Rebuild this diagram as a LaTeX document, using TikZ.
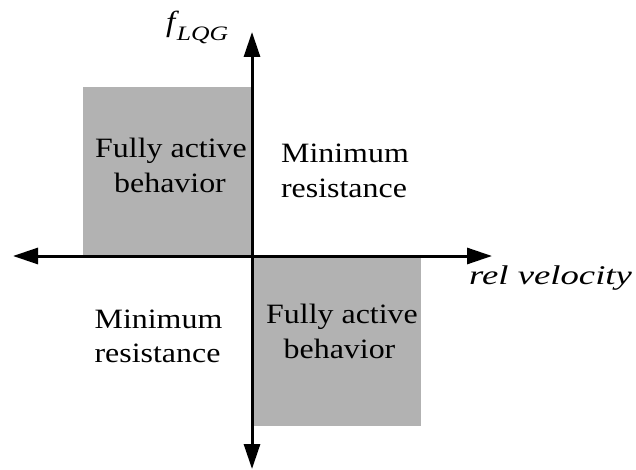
\documentclass[tikz,border=0pt]{standalone}
\usepackage{fontspec}
\setmainfont{Liberation Serif}
\newfontfamily\lblfont{Liberation Serif}[FakeStretch=1.14]
\newfontfamily\axfont{Liberation Serif}[FakeStretch=1.36]
\newfontfamily\subfont{Liberation Serif}[FakeStretch=1.25]
\usetikzlibrary{arrows.meta}

\begin{document}
\begin{tikzpicture}[x=1pt,y=-1pt,
  axis/.style={line width=3pt,-{Triangle[length=25pt,width=16pt]}},
  quad/.style={fill=black!30,draw=none},
  lbl/.style={inner sep=0pt,anchor=base,font=\lblfont\fontsize{28}{32}\selectfont},
  axlbl/.style={inner sep=0pt,anchor=base west,font=\axfont\itshape\fontsize{27}{30}\selectfont},
]
\useasboundingbox (0,0) rectangle (636,470);

% shaded quadrants
\fill[quad] (83,87) rectangle (252,256);
\fill[quad] (252,256) rectangle (421,426);

% axes
\coordinate (o)  at (252,256);
\coordinate (xl) at (13,256);
\coordinate (xr) at (492,256);
\coordinate (yt) at (252,32);
\coordinate (yb) at (252,469);
\draw[axis] (o) -- (xr);
\draw[axis] (o) -- (xl);
\draw[axis] (o) -- (yt);
\draw[axis] (o) -- (yb);

% axis labels
\node[axlbl] (xlab) at (469,284) {rel velocity};
\node[inner sep=0pt,anchor=base west] (ylab) at (166,32)
  {{\lblfont\itshape\fontsize{29}{30}\selectfont f}\kern1.5pt\raisebox{-9pt}{\subfont\itshape\fontsize{20.5}{20}\selectfont LQG}};

% quadrant labels
\node[lbl] (ul1) at (171,158) {Fully active};
\node[lbl] (ul2) at (170,193) {behavior};
\node[lbl] (ur1) at (345,163) {Minimum};
\node[lbl] (ur2) at (344,197) {resistance};
\node[lbl] (ll1) at (158.5,328) {Minimum};
\node[lbl] (ll2) at (157.5,362) {resistance};
\node[lbl] (lr1) at (342,323) {Fully active};
\node[lbl] (lr2) at (339.5,358) {behavior};
\end{tikzpicture}
\end{document}
